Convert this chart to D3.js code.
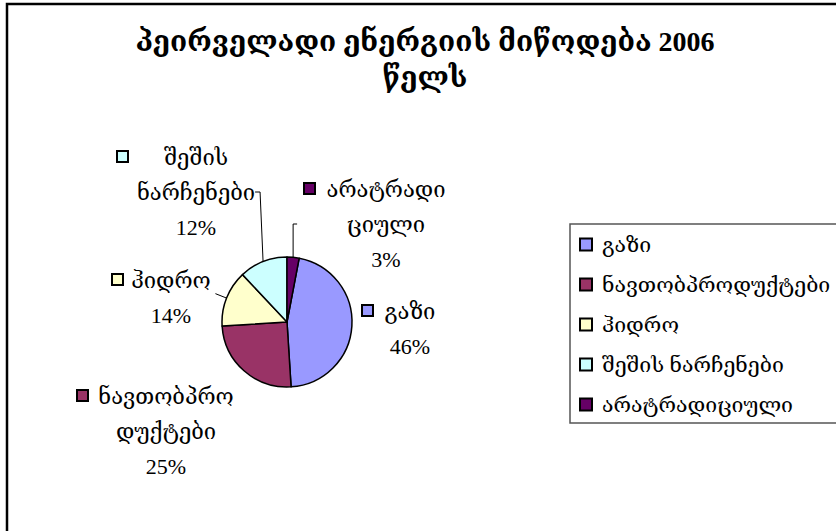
<!DOCTYPE html>
<html>
<head>
<meta charset="utf-8">
<script src="https://cdn.jsdelivr.net/npm/d3@7"></script>
<style>
  html, body { margin: 0; padding: 0; background: #fff; }
  svg { display: block; }
  text { font-family: "Liberation Serif", "DejaVu Serif", serif; fill: #000; }
</style>
</head>
<body>
<svg id="chart" width="836" height="531"></svg>
<script>
// ---- data ----
const titleLines = ["პეირველადი ენერგიის მიწოდება 2006", "წელს"];
const categories = ["გაზი", "ნავთობპროდუქტები", "ჰიდრო", "შეშის ნარჩენები", "არატრადიციული"];
const values = [46, 25, 14, 12, 3];
const colors = ["#9999FF", "#993366", "#FFFFCC", "#CCFFFF", "#660066"];
// wrapped category names as shown in the data labels
const labelNames = [["გაზი"], ["ნავთობპრო", "დუქტები"], ["ჰიდრო"], ["შეშის", "ნარჩენები"], ["არატრადი", "ციული"]];

// ---- layout (styling only) ----
const W = 836, H = 531;
const cx = 287, cy = 322, R = 65;
// label block: center x, baseline of last line, key offset from center
const labelLayout = [
  { x: 410, yLast: 354, keyDx: -48 },
  { x: 166, yLast: 474, keyDx: -89 },
  { x: 171, yLast: 323, keyDx: -59 },
  { x: 196, yLast: 235, keyDx: -79 },
  { x: 386, yLast: 267, keyDx: -82 }
];
const lineH = 35;
const fontSize = 22;
const legendFontSize = 21.3;

const svg = d3.select("#chart");

// outer chart border
svg.append("rect").attr("x", 7).attr("y", 4).attr("width", W + 20).attr("height", H + 20)
  .attr("fill", "#fff").attr("stroke", "#000").attr("stroke-width", 2.5);

// title
svg.append("text").attr("x", 425).attr("y", 51).attr("text-anchor", "middle")
  .attr("font-size", 28).attr("font-weight", "bold")
  .selectAll("tspan").data(titleLines).join("tspan")
  .attr("x", 425).attr("dy", (d, i) => i === 0 ? 0 : 36).text(d => d);

// pie
const total = d3.sum(values);
const startOffset = values[values.length - 1] / total * 2 * Math.PI;
const pie = d3.pie().sort(null).value(d => d)
  .startAngle(startOffset).endAngle(startOffset + 2 * Math.PI);
const arcs = pie(values);
const arc = d3.arc().innerRadius(0).outerRadius(R);
const g = svg.append("g").attr("transform", `translate(${cx},${cy})`);
g.selectAll("path").data(arcs).join("path")
  .attr("d", arc)
  .attr("fill", (d, i) => colors[i])
  .attr("stroke", "#000").attr("stroke-width", 1.5).attr("stroke-linejoin", "round");

const pct = v => Math.round(v / total * 100) + "%";

// data labels
arcs.forEach((a, i) => {
  const L = labelLayout[i];
  const lines = labelNames[i].concat([pct(values[i])]);
  const n = lines.length;
  const y0 = L.yLast - (n - 1) * lineH;
  lines.forEach((t, j) => {
    svg.append("text").attr("x", L.x).attr("y", y0 + j * lineH)
      .attr("text-anchor", "middle").attr("font-size", fontSize).text(t);
  });
  svg.append("rect").attr("x", L.x + L.keyDx).attr("y", y0 - 14).attr("width", 11).attr("height", 11)
    .attr("fill", colors[i]).attr("stroke", "#000").attr("stroke-width", 2);
});

// leader lines
const mid = a => (a.startAngle + a.endAngle) / 2;
const edge = (a, r) => [cx + r * Math.sin(mid(a)), cy - r * Math.cos(mid(a))];
function leader(pts) {
  svg.append("path").attr("d", d3.line()(pts)).attr("fill", "none")
    .attr("stroke", "#000").attr("stroke-width", 1);
}
{ // შეშის ნარჩენები
  const p = edge(arcs[3], R);
  leader([p, [p[0] - 3, 192], [p[0] - 8, 192]]);
}
{ // არატრადიციული
  const p = edge(arcs[4], R);
  leader([p, [p[0], 224], [p[0] + 4, 224]]);
}
{ // ჰიდრო
  const p = edge(arcs[2], R), q = edge(arcs[2], R + 12);
  leader([p, q]);
}

// legend
const lg = svg.append("g");
lg.append("rect").attr("x", 570).attr("y", 224).attr("width", 300).attr("height", 199)
  .attr("fill", "#fff").attr("stroke", "#555").attr("stroke-width", 1.5);
categories.forEach((c, i) => {
  const yc = 245 + i * 40;
  lg.append("rect").attr("x", 580).attr("y", yc - 6.5).attr("width", 12).attr("height", 12)
    .attr("fill", colors[i]).attr("stroke", "#000").attr("stroke-width", 2);
  lg.append("text").attr("x", 602).attr("y", yc + 7).attr("font-size", legendFontSize).text(c);
});
</script>
</body>
</html>
